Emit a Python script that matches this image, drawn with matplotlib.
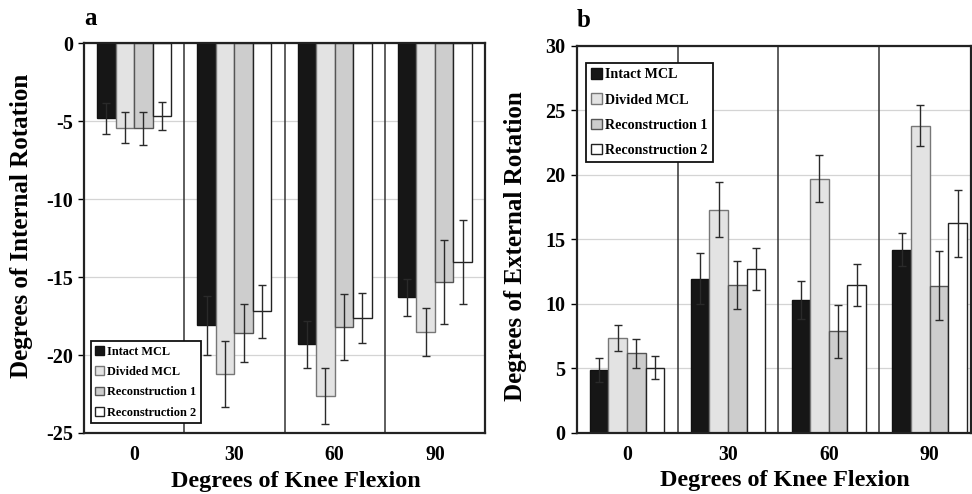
import matplotlib
matplotlib.use('Agg')
import matplotlib.pyplot as plt
import numpy as np

plt.rcParams['font.family'] = ['Liberation Serif', 'DejaVu Serif']
plt.rcParams['font.weight'] = 'bold'
plt.rcParams['axes.labelweight'] = 'bold'
plt.rcParams['axes.unicode_minus'] = False

flexion = ['0', '30', '60', '90']
series = ['Intact MCL', 'Divided MCL', 'Reconstruction 1', 'Reconstruction 2']

# internal rotation (panel a), degrees
int_mean = [[-4.8, -18.1, -19.3, -16.3],
            [-5.4, -21.2, -22.6, -18.5],
            [-5.45, -18.6, -18.2, -15.3],
            [-4.65, -17.2, -17.6, -14.0]]
int_sd = [[1.0, 1.9, 1.5, 1.2],
          [1.0, 2.1, 1.8, 1.55],
          [1.05, 1.85, 2.1, 2.7],
          [0.9, 1.7, 1.6, 2.7]]

# external rotation (panel b), degrees
ext_mean = [[4.85, 11.95, 10.3, 14.2],
            [7.35, 17.3, 19.7, 23.8],
            [6.15, 11.45, 7.85, 11.4],
            [5.05, 12.7, 11.45, 16.25]]
ext_sd = [[0.95, 1.95, 1.5, 1.25],
          [1.0, 2.1, 1.8, 1.6],
          [1.1, 1.85, 2.05, 2.7],
          [0.9, 1.65, 1.6, 2.6]]

faces = ['#161616', '#e3e3e3', '#cdcdcd', '#ffffff']
edges = ['#111111', '#777777', '#555555', '#222222']


def draw_panel(ax, means, sds, ylim, ylabel, letter, ylab_y, legend_kw):
    x = np.arange(len(flexion))
    w = 0.185
    for k, (m, s) in enumerate(zip(means, sds)):
        pos = x + (k - 1.5) * w
        ax.bar(pos, m, w, color=faces[k], edgecolor=edges[k], lw=1.0,
               label=series[k], zorder=2)
        ax.errorbar(pos, m, yerr=s, fmt='none', ecolor='#2a2a2a',
                    elinewidth=1.0, capsize=3.2, capthick=1.0, zorder=3)
    for b in (0.5, 1.5, 2.5):
        ax.axvline(b, color='#333333', lw=1.1, zorder=1)
    ax.set_ylim(*ylim)
    ax.set_yticks(np.arange(ylim[0], ylim[1] + 1, 5))
    ax.yaxis.grid(True, color='#d4d4d4', lw=0.9, zorder=0)
    ax.set_axisbelow(True)
    ax.set_xticks(x)
    ax.set_xticklabels(flexion)
    ax.tick_params(axis='x', length=0, pad=9, labelsize=14.3)
    ax.tick_params(axis='y', length=4, width=1, labelsize=14.5, pad=4)
    for sp in ax.spines.values():
        sp.set_linewidth(1.6)
        sp.set_color('#222222')
    ax.set_xlabel('Degrees of Knee Flexion', fontsize=17.4, va='top')
    ax.xaxis.set_label_coords(0.528, -0.097)
    ax.set_ylabel(ylabel, fontsize=18)
    ax.yaxis.set_label_coords(-0.126, ylab_y)
    ax.text(0.0, 1.035, letter, transform=ax.transAxes, fontsize=18,
            fontweight='bold', ha='left', va='bottom')
    leg = ax.legend(frameon=True, fancybox=False, framealpha=1,
                    edgecolor='#111111', handlelength=0.75, handleheight=0.75,
                    handletextpad=0.25, borderaxespad=0, borderpad=0.35,
                    **legend_kw)
    leg.get_frame().set_linewidth(1.3)


fig = plt.figure(figsize=(9.72, 4.94), dpi=100)
ax1 = fig.add_axes([0.0864, 0.1235, 0.4126, 0.7885])
ax2 = fig.add_axes([0.5933, 0.124, 0.4057, 0.7835])

draw_panel(ax1, int_mean, int_sd, (-25, 0), 'Degrees of Internal Rotation',
           'a', 0.531,
           dict(loc='lower left', bbox_to_anchor=(0.017, 0.026),
                prop={'size': 8.8, 'weight': 'bold'}, labelspacing=0.68))
ax1.set_xlim(-0.5, 3.5)

draw_panel(ax2, ext_mean, ext_sd, (0, 30), 'Degrees of External Rotation',
           'b', 0.482,
           dict(loc='upper left', bbox_to_anchor=(0.0236, 0.9545),
                prop={'size': 10.2, 'weight': 'bold'}, labelspacing=0.85))
ax2.set_xlim(-0.5, 3.41)

fig.savefig('out.png', dpi=100)
